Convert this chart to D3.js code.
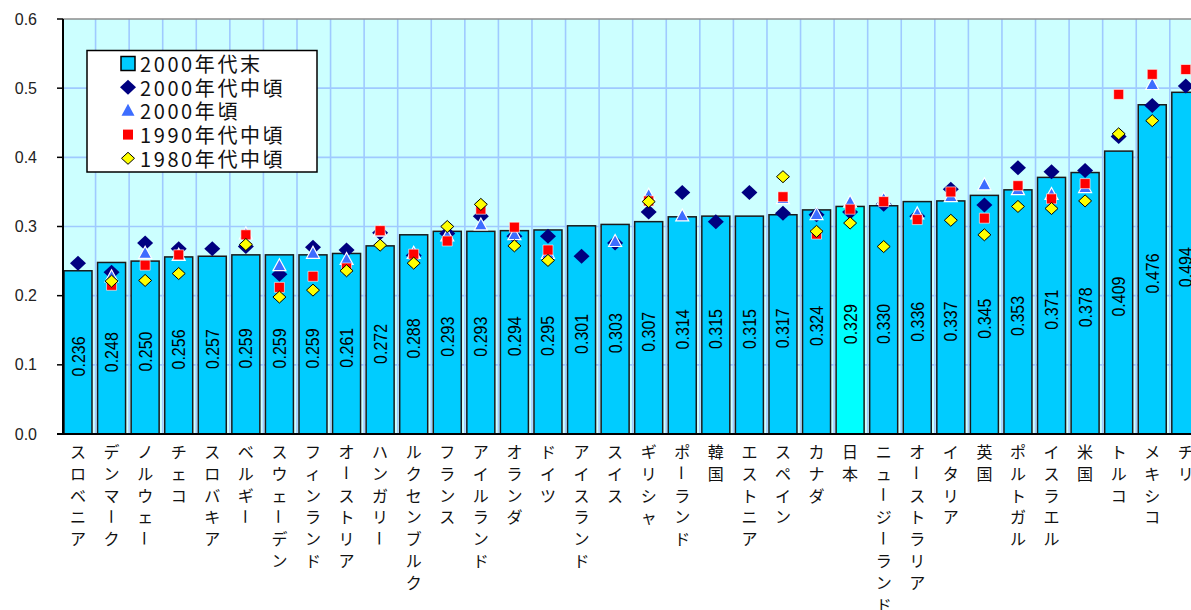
<!DOCTYPE html>
<html>
<head>
<meta charset="utf-8">
<script src="https://cdn.jsdelivr.net/npm/d3@7"></script>
<style>
  html, body { margin: 0; padding: 0; background: #ffffff; }
  svg { display: block; }
</style>
</head>
<body>
<svg id="chart" width="1191" height="610"></svg>
<script>
// OECD countries, sorted by Gini coefficient (late 2000s)
const countries = ["スロベニア","デンマーク","ノルウェー","チェコ","スロバキア","ベルギー","スウェーデン","フィンランド","オーストリア","ハンガリー","ルクセンブルク","フランス","アイルランド","オランダ","ドイツ","アイスランド","スイス","ギリシャ","ポーランド","韓国","エストニア","スペイン","カナダ","日本","ニュージーランド","オーストラリア","イタリア","英国","ポルトガル","イスラエル","米国","トルコ","メキシコ","チリ"];

// 2000年代末 (bars)
const late2000s = [0.236,0.248,0.250,0.256,0.257,0.259,0.259,0.259,0.261,0.272,0.288,0.293,0.293,0.294,0.295,0.301,0.303,0.307,0.314,0.315,0.315,0.317,0.324,0.329,0.330,0.336,0.337,0.345,0.353,0.371,0.378,0.409,0.476,0.494];

// 2000年代中頃
const mid2000s = [0.247,0.234,0.276,0.268,0.268,0.271,0.231,0.270,0.266,0.291,0.258,0.290,0.315,0.286,0.286,0.257,0.276,0.321,0.349,0.307,0.349,0.319,0.317,0.321,0.332,0.315,0.354,0.331,0.385,0.379,0.381,0.430,0.475,0.503];

// 2000年頃
const around2000 = [null,0.227,0.261,0.258,null,0.289,0.243,0.261,0.252,0.293,0.261,0.286,0.302,0.288,0.261,null,0.278,0.345,0.315,null,null,0.340,0.317,0.335,0.339,0.318,0.343,0.360,0.353,0.346,0.356,null,0.505,null];

// 1990年代中頃
const mid1990s = [null,0.215,0.244,0.259,null,0.288,0.212,0.228,0.240,0.294,0.260,0.279,0.325,0.299,0.266,null,null,0.337,null,null,null,0.343,0.289,0.325,0.336,0.310,0.350,0.312,0.359,0.340,0.362,0.491,0.520,0.527];

// 1980年代中頃
const mid1980s = [null,0.221,0.222,0.232,null,0.274,0.198,0.208,0.236,0.273,0.247,0.300,0.332,0.272,0.251,null,null,0.336,null,null,null,0.372,0.293,0.305,0.271,null,0.309,0.288,0.329,0.326,0.337,0.434,0.453,null];

const yTicks = [0.0,0.1,0.2,0.3,0.4,0.5,0.6];
const legendLabels = ["2000年代末","2000年代中頃","2000年頃","1990年代中頃","1980年代中頃"];
const highlight = "日本";

const W = 1191, H = 610;
const plotLeft = 63, plotTop = 19, plotBottom = 434;
const step = 33.57;
const bandStart = 62;

const svg = d3.select("#chart");

const x = d3.scaleBand()
  .domain(countries)
  .range([bandStart, bandStart + step * countries.length])
  .padding(0);

const y = d3.scaleLinear().domain([0, 0.6]).range([plotBottom, plotTop]);

const jp = "'Noto Sans CJK JP', 'Noto Sans', sans-serif";

// plot area background
svg.append("rect")
  .attr("x", plotLeft).attr("y", plotTop)
  .attr("width", W - plotLeft + 20).attr("height", plotBottom - plotTop)
  .attr("fill", "#ccffff");

// gridlines
const grid = svg.append("g").attr("stroke", "#9fcaff").attr("stroke-width", 1.6);
grid.selectAll("line.h").data(yTicks.slice(1, -1)).join("line")
  .attr("x1", plotLeft).attr("x2", W + 20)
  .attr("y1", d => y(d)).attr("y2", d => y(d));
grid.selectAll("line.v").data(countries.slice(1)).join("line")
  .attr("x1", d => x(d)).attr("x2", d => x(d))
  .attr("y1", plotTop).attr("y2", plotBottom);

// top border of the plot area
svg.append("line")
  .attr("x1", plotLeft).attr("x2", W + 20)
  .attr("y1", plotTop).attr("y2", plotTop)
  .attr("stroke", "#8c8c8c").attr("stroke-width", 1.5);

// bars
const barInset = 2, barW = 28;
svg.append("g").selectAll("rect").data(countries).join("rect")
  .attr("x", d => x(d) + barInset)
  .attr("y", (d, i) => y(late2000s[i]))
  .attr("width", barW)
  .attr("height", (d, i) => y(0) - y(late2000s[i]))
  .attr("fill", d => d === highlight ? "#00ffff" : "#00ccff")
  .attr("stroke", "#1a1a1a")
  .attr("stroke-width", 1.5);

// value labels inside the bars
svg.append("g").selectAll("text").data(countries).join("text")
  .attr("transform", (d, i) => {
    const cx = x(d) + barInset + barW / 2;
    const cy = (y(late2000s[i]) + y(0)) / 2 + 4;
    return `translate(${cx},${cy}) rotate(-90)`;
  })
  .attr("text-anchor", "middle")
  .attr("dominant-baseline", "central")
  .attr("font-family", "'Liberation Sans', Arial, sans-serif")
  .attr("font-size", 19)
  .attr("textLength", 40)
  .attr("lengthAdjust", "spacingAndGlyphs")
  .attr("fill", "#000")
  .text((d, i) => d3.format(".3f")(late2000s[i]));

// marker shapes
function diamond(w, h) {
  const p = d3.path();
  p.moveTo(0, -h / 2); p.lineTo(w / 2, 0); p.lineTo(0, h / 2); p.lineTo(-w / 2, 0); p.closePath();
  return p.toString();
}
function triangle(w, h) {
  const p = d3.path();
  p.moveTo(0, -h * 0.6); p.lineTo(w / 2, h * 0.4); p.lineTo(-w / 2, h * 0.4); p.closePath();
  return p.toString();
}
function square(s) {
  const p = d3.path();
  p.rect(-s / 2, -s / 2, s, s);
  return p.toString();
}

const seriesStyles = [
  { values: mid2000s, path: diamond(16, 15), fill: "#000080", stroke: "none", sw: 0 },
  { values: around2000, path: triangle(13, 12), fill: "#3d6dff", stroke: "#ffffff", sw: 1.2 },
  { values: mid1990s, path: square(10), fill: "#ff0000", stroke: "#ffffff", sw: 0.6 },
  { values: mid1980s, path: diamond(13, 12), fill: "#ffff00", stroke: "#000000", sw: 1 }
];

seriesStyles.forEach(s => {
  const pts = countries.map((c, i) => ({ c, v: s.values[i] })).filter(p => p.v != null);
  svg.append("g").selectAll("path").data(pts).join("path")
    .attr("transform", p => `translate(${x(p.c) + barInset + barW / 2},${y(p.v)})`)
    .attr("d", s.path)
    .attr("fill", s.fill)
    .attr("stroke", s.stroke)
    .attr("stroke-width", s.sw);
});

// y axis
const yAxis = svg.append("g");
yAxis.append("line")
  .attr("x1", plotLeft).attr("x2", plotLeft)
  .attr("y1", plotTop).attr("y2", plotBottom)
  .attr("stroke", "#000").attr("stroke-width", 2);
yAxis.selectAll("line.tick").data(yTicks).join("line")
  .attr("x1", plotLeft - 6).attr("x2", plotLeft)
  .attr("y1", d => y(d)).attr("y2", d => y(d))
  .attr("stroke", "#000").attr("stroke-width", 1.5);
yAxis.selectAll("text").data(yTicks).join("text")
  .attr("x", 37).attr("y", d => y(d))
  .attr("text-anchor", "end")
  .attr("dominant-baseline", "central")
  .attr("font-family", "'Liberation Sans', Arial, sans-serif")
  .attr("font-size", 16)
  .attr("fill", "#222")
  .text(d => d3.format(".1f")(d));

// x axis line
svg.append("line")
  .attr("x1", plotLeft - 6).attr("x2", W + 20)
  .attr("y1", plotBottom).attr("y2", plotBottom)
  .attr("stroke", "#000").attr("stroke-width", 2);

// vertical category labels, one character per row
const rowGap = 21.8, firstRow = 451;
const xl = svg.append("g")
  .attr("font-family", jp)
  .attr("font-size", 16)
  .attr("fill", "#111");
countries.forEach(c => {
  const cx = x(c) + barInset + barW / 2;
  Array.from(c).forEach((ch, k) => {
    const cy = firstRow + k * rowGap;
    const t = xl.append("text")
      .attr("x", cx).attr("y", cy)
      .attr("text-anchor", "middle")
      .attr("dominant-baseline", "central")
      .text(ch);
    if (ch === "ー") t.attr("transform", `rotate(90,${cx},${cy})`);
  });
});

// legend
const lg = svg.append("g");
lg.append("rect")
  .attr("x", 87).attr("y", 50.5)
  .attr("width", 230).attr("height", 121.5)
  .attr("fill", "#fff").attr("stroke", "#000").attr("stroke-width", 1.5);
const rowY = i => 63.5 + i * 23.7;
const mx = 128;
lg.append("rect")
  .attr("x", mx - 7).attr("y", rowY(0) - 7)
  .attr("width", 14).attr("height", 14)
  .attr("fill", "#00ccff").attr("stroke", "#000").attr("stroke-width", 1.5);
seriesStyles.forEach((s, i) => {
  lg.append("path")
    .attr("transform", `translate(${mx},${rowY(i + 1)})`)
    .attr("d", s.path)
    .attr("fill", s.fill)
    .attr("stroke", s.stroke === "#ffffff" ? "none" : s.stroke)
    .attr("stroke-width", s.sw);
});
lg.selectAll("text").data(legendLabels).join("text")
  .attr("x", 140).attr("y", (d, i) => rowY(i))
  .attr("dominant-baseline", "central")
  .attr("font-family", jp)
  .attr("font-size", 20)
  .attr("letter-spacing", 2.6)
  .attr("fill", "#111")
  .text(d => d);
</script>
</body>
</html>
